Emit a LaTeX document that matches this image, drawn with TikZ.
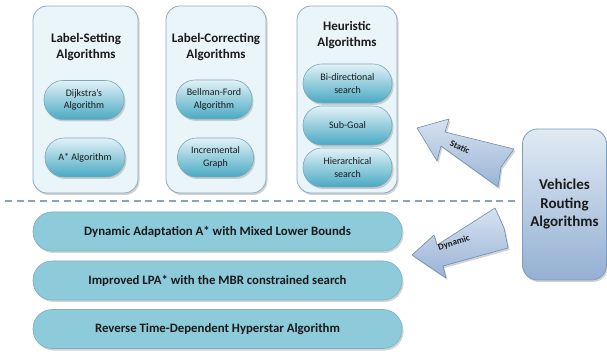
\documentclass[tikz,border=0pt]{standalone}
\usepackage{fontspec}
\setmainfont{Carlito}
\usetikzlibrary{shadows}
\definecolor{boxfill}{HTML}{EAF5F9}
\definecolor{boxdraw}{HTML}{8FAAC2}
\definecolor{pilltop}{HTML}{E2F2F7}
\definecolor{pillbot}{HTML}{49A9C3}
\definecolor{pilldraw}{HTML}{7FA6BA}
\definecolor{barfill}{HTML}{8DCADA}
\definecolor{bardraw}{HTML}{7FB0C4}
\definecolor{vrtop}{HTML}{E0EAF4}
\definecolor{vrbot}{HTML}{94B0D3}
\definecolor{vrdraw}{HTML}{7F9BBE}
\definecolor{arrtop}{HTML}{D6E2F0}
\definecolor{arrbot}{HTML}{9AB3D6}
\definecolor{arrdraw}{HTML}{6E8DB2}
\definecolor{dashcol}{HTML}{8AA3BE}
\definecolor{txt}{HTML}{1A1A1A}
\begin{document}
\begin{tikzpicture}[x=1pt,y=-1pt,
  shad/.style={drop shadow={opacity=0.35,shadow xshift=1.5pt,shadow yshift=-2pt}},
  bigbox/.style={draw=boxdraw,line width=0.8pt,fill=boxfill,rounded corners=14pt,
    minimum height=187pt,inner sep=0pt,shad},
  titletext/.style={align=center,text=txt,font=\fontsize{13}{16}\selectfont\bfseries},
  pill/.style={draw=pilldraw,line width=0.6pt,top color=pilltop,bottom color=pillbot,
    rounded corners=19pt,minimum height=39pt,inner sep=0pt,align=center,text=txt,
    font=\fontsize{10}{12.5}\selectfont,shad},
  bar/.style={draw=bardraw,line width=0.6pt,fill=barfill,rounded corners=19pt,
    minimum width=369pt,minimum height=39pt,inner sep=0pt,text=txt,
    font=\fontsize{12.8}{14}\selectfont\bfseries,shad},
  vrbox/.style={draw=vrdraw,line width=0.8pt,top color=vrtop,bottom color=vrbot,
    rounded corners=15pt,minimum width=84pt,minimum height=151pt,inner sep=0pt,
    align=center,text=txt,font=\fontsize{15}{18.5}\selectfont\bfseries,shad},
  blockarrow/.style={draw=arrdraw,line width=0.6pt,top color=arrtop,bottom color=arrbot,
    line join=round,shad},
  arrtext/.style={text=txt,font=\fontsize{9}{10}\selectfont\bfseries,inner sep=0pt},
  dashline/.style={draw=dashcol,line width=1.3pt,dash pattern=on 7pt off 4.7pt}
]
\useasboundingbox (0,0) rectangle (607,352);

% top group boxes
\node[bigbox,minimum width=105pt] (ls) at (85.5,99.5) {};
\node[bigbox,minimum width=100pt] (lc) at (216,99.5) {};
\node[bigbox,minimum width=100pt] (he) at (347,99.5) {};

\node[titletext] (lsT) at (86,47) {Label-Setting\\Algorithms};
\node[titletext] (lcT) at (216,47) {Label-Correcting\\Algorithms};
\node[titletext] (heT) at (347,35) {Heuristic\\Algorithms};

\node[pill,minimum width=80pt] (dij) at (84,100) {Dijkstra’s\\Algorithm};
\node[pill,minimum width=80pt] (astar) at (85,157.5) {A* Algorithm};
\node[pill,minimum width=76pt] (bf) at (214,99.5) {Bellman-Ford\\Algorithm};
\node[pill,minimum width=76pt] (inc) at (215.5,157.5) {Incremental\\Graph};
\node[pill,minimum width=89pt] (bi) at (347.5,83.5) {Bi-directional\\search};
\node[pill,minimum width=89pt] (sg) at (347.5,125.5) {Sub-Goal};
\node[pill,minimum width=89pt] (hi) at (347.5,167.5) {Hierarchical\\search};

% separator
\coordinate (dl) at (5,201);
\coordinate (dr) at (517,201);
\draw[dashline] (dl) -- (dr);

% bottom bars
\node[bar] (b1) at (217.5,231.5) {Dynamic Adaptation A* with Mixed Lower Bounds};
\node[bar] (b2) at (217.5,280.5) {Improved LPA* with the MBR constrained search};
\node[bar] (b3) at (217.5,329) {Reverse Time-Dependent Hyperstar Algorithm};

% vehicles routing box
\node[vrbox] (vr) at (564.5,204.5) {Vehicles\\Routing\\Algorithms};

% static arrow
\path[blockarrow] (417,128) -- (449,119) -- (445,132) -- (514,149) -- (501,167)
  -- (498,187) -- (441,146) -- (437,161) -- cycle;
\node[arrtext,rotate=-25] (st) at (460,147) {Static};

% dynamic arrow
\path[blockarrow] (412,255) -- (434,235) -- (437,245) -- (495,208) -- (504,228)
  -- (508,248) -- (443,266) -- (446,278) -- cycle;
\node[arrtext,rotate=17] (dy) at (454,243) {Dynamic};
\end{tikzpicture}
\end{document}
